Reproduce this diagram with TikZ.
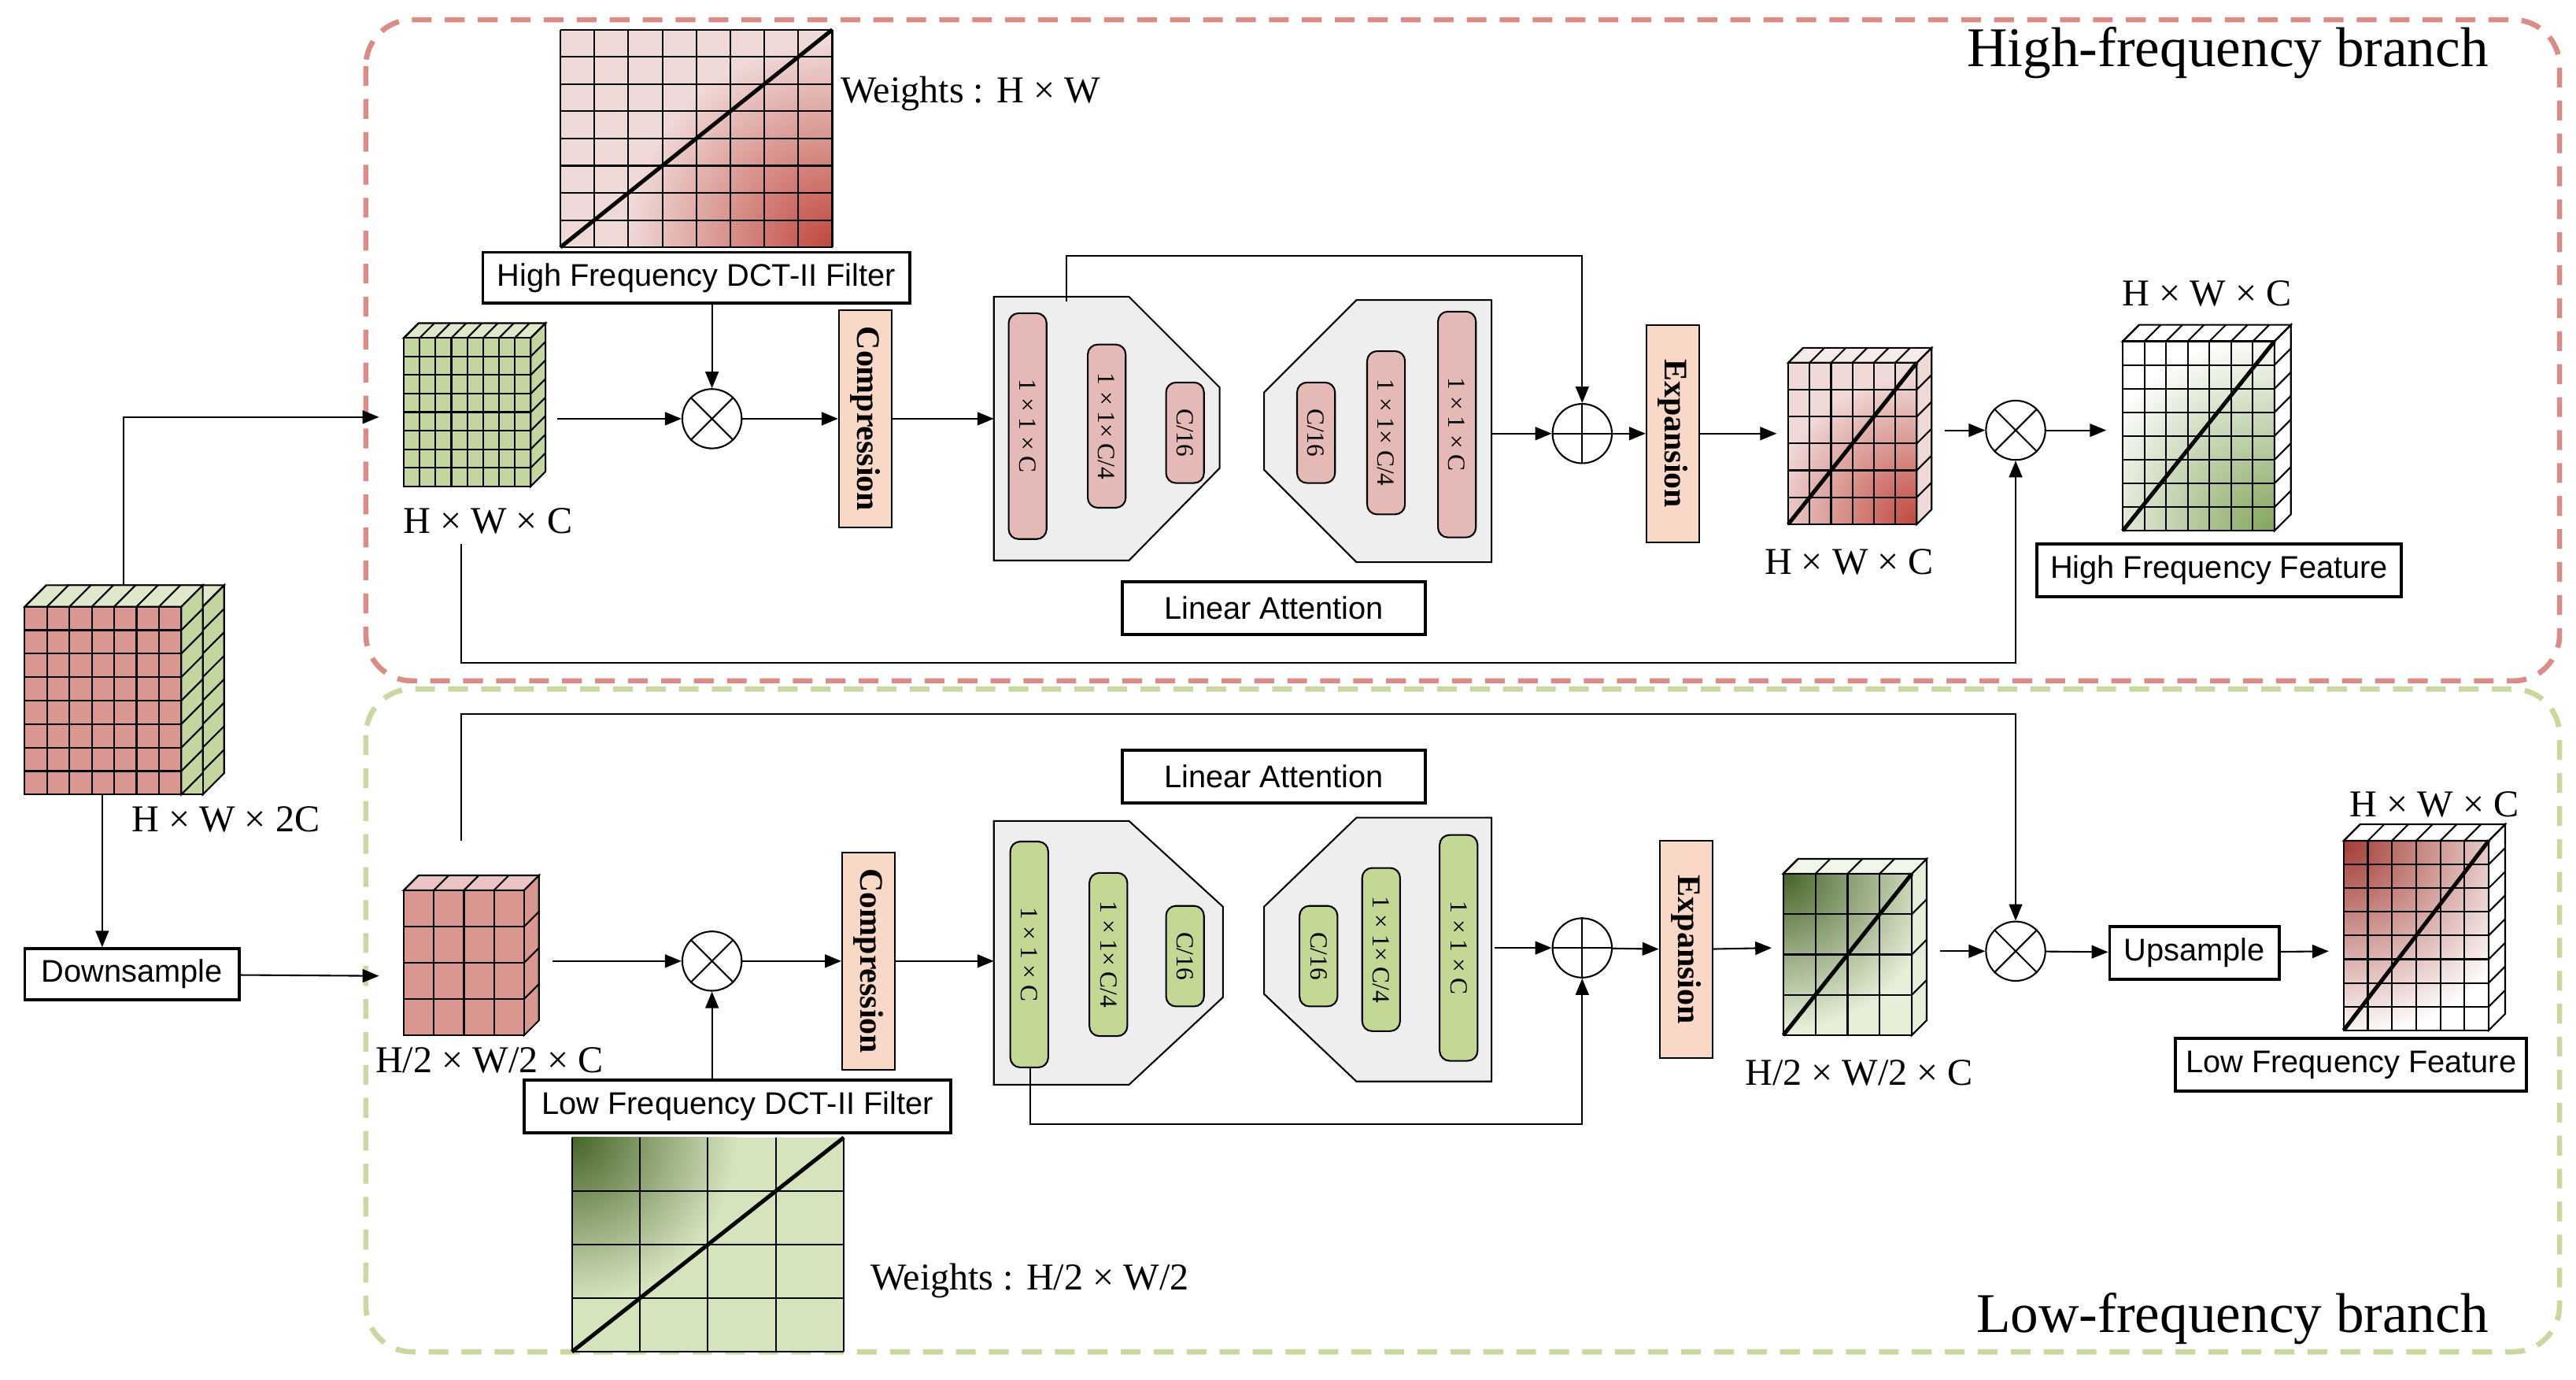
\documentclass[tikz,border=0pt]{standalone}
\usepackage{fontspec}
\setmainfont{Liberation Serif}
\newfontfamily\sansf{Liberation Sans}
\usetikzlibrary{arrows.meta,shapes.misc}
\definecolor{hred}{RGB}{218,140,135}
\definecolor{lgrn}{RGB}{200,216,160}
\definecolor{gcube}{RGB}{196,214,160}
\definecolor{rcube}{RGB}{218,150,145}
\definecolor{pbar}{RGB}{228,185,182}
\definecolor{gbar}{RGB}{196,216,150}
\definecolor{peach}{RGB}{250,216,200}
\definecolor{pgrey}{RGB}{238,238,238}
\definecolor{hpink}{RGB}{240,218,216}
\definecolor{dred}{RGB}{192,70,60}
\definecolor{dgrn}{RGB}{70,100,40}
\definecolor{mgrn}{RGB}{130,165,90}
\definecolor{lpale}{RGB}{214,228,190}
\tikzset{every picture/.style={line width=0.5pt}}
\tikzset{
  arr/.style={-{Triangle[length=5pt,width=4pt]}},
  lbl/.style={font=\sansf\fontsize{9.5}{11}\selectfont,draw,line width=0.9pt,inner sep=0pt},
  dim/.style={font=\fontsize{11.5}{13}\selectfont},
  bar/.style={draw,rounded corners=3pt,minimum height=11.5pt,rotate=-90,inner sep=0pt,font=\fontsize{7.5}{8}\selectfont},
  stage/.style={draw,fill=peach,minimum width=16pt,minimum height=66pt,inner sep=0pt},
  op/.style={draw,circle,minimum size=18pt,inner sep=0pt},
}
% cube: x, y (front top-left), w, h, depth, cols, rows, front fill, side fill
\newcommand\gcube[9]{%
  \filldraw[fill=#9] (#1+#3,#2) -- ++(#5,-#5) -- ++(0,#4) -- ++(-#5,#5) -- cycle;
  \filldraw[fill=#9!55!white] (#1,#2) -- ++(#5,-#5) -- ++(#3,0) -- ++(-#5,#5) -- cycle;
  \filldraw[fill=#8] (#1,#2) rectangle ++(#3,#4);
  \foreach \i in {1,...,#6}{
    \draw (#1+\i*#3/#6,#2) -- ++(0,#4);
    \draw (#1+\i*#3/#6-#3/#6,#2) -- ++(#5,-#5);}
  \foreach \j in {1,...,#7}{
    \draw (#1,#2+\j*#4/#7) -- ++(#3,0);
    \draw (#1+#3,#2+\j*#4/#7-#4/#7) -- ++(#5,-#5);}
}
\begin{document}
\begin{tikzpicture}[x=0.5pt,y=-0.5pt]
\useasboundingbox (0,0) rectangle (1563,837);

% branch frames
\draw[hred,line width=1.6pt,dash pattern=on 6pt off 4pt,rounded corners=14pt] (222,12) rectangle (1553,413);
\draw[lgrn,line width=1.6pt,dash pattern=on 6pt off 4pt,rounded corners=14pt] (222,418) rectangle (1553,820);
\node[anchor=east,font=\fontsize{17}{19}\selectfont] (th) at (1517,32) {High-frequency branch};
\node[anchor=east,font=\fontsize{17}{19}\selectfont] (tl) at (1517,800) {Low-frequency branch};

% input feature
\gcube{28}{368}{95}{114}{13}{7}{8}{gcube}{gcube}
\gcube{15}{368}{95}{114}{13}{7}{8}{rcube}{gcube}
\node[dim] (din) at (137,497) {H × W × 2C};
\coordinate (inT) at (75,355);
\coordinate (inB) at (62,482);
\coordinate (hin) at (230,253);
\coordinate (lin) at (230,592);
\node[lbl,minimum width=65pt,minimum height=15.5pt] (down) at (80,591) {Downsample};
\draw[arr] (inT) |- (hin);
\draw[arr] (inB) -- (inB |- down.north);
\draw[arr] (down) -- (lin);

%%% high-frequency branch
\gcube{245}{205}{77}{90}{9}{8}{8}{gcube}{gcube}
\coordinate (hc) at (338,254);
\node[dim] (dh1) at (296,316) {H × W × C};
% weights H x W
\fill[hpink] (340,18) rectangle (505,150);
\begin{scope}
\clip (340,18) rectangle (505,150);
\shade[inner color=dred,outer color=hpink] (505,150) circle (125);
\end{scope}
\foreach \i in {0,...,8} \draw (340+\i*165/8,18) -- ++(0,132);
\foreach \j in {0,...,8} \draw (340,18+\j*132/8) -- ++(165,0);
\draw[line width=1.2pt] (340,150) -- (505,18);
\node[dim,anchor=west] (wh) at (503,57) {Weights : H × W};
\node[lbl,minimum width=129.5pt,minimum height=15.5pt] (fh) at (422.5,168.5) {High Frequency DCT-II Filter};
\node[op] (mh) at (432,254) {};
\draw (mh.north east) -- (mh.south west) (mh.north west) -- (mh.south east);
\draw[arr] (fh.south -| mh) -- (mh);
\draw[arr] (hc) -- (mh);
\node[stage] (ch) at (525,254) {};
\node[rotate=-90,font=\bfseries\fontsize{10}{11}\selectfont] at (ch) {Compression};
\draw[arr] (mh) -- (ch);
% linear attention
\filldraw[fill=pgrey] (603,180) -- (685,180) -- (740,235) -- (740,284) -- (685,340) -- (603,340) -- cycle;
\filldraw[fill=pgrey] (767,238) -- (823,182) -- (905,182) -- (905,341) -- (823,341) -- (767,285) -- cycle;
\node[bar,fill=pbar,minimum width=68.5pt] (h1) at (623.5,258.5) {1 × 1 × C};
\node[bar,fill=pbar,minimum width=49.5pt] (h2) at (671.5,258.5) {1 × 1× C/4};
\node[bar,fill=pbar,minimum width=30.5pt] (h3) at (719,262.5) {C/16};
\node[bar,fill=pbar,minimum width=30.5pt] (h4) at (798.5,262.5) {C/16};
\node[bar,fill=pbar,minimum width=49.5pt] (h5) at (841,262.5) {1 × 1× C/4};
\node[bar,fill=pbar,minimum width=68.5pt] (h6) at (884,257.5) {1 × 1 × C};
\coordinate (ehin) at (603,254);
\coordinate (ehout) at (905,263);
\coordinate (skh) at (647,183);
\draw[arr] (ch) -- (ehin);
\node[lbl,minimum width=92pt,minimum height=16pt] (lah) at (773,369) {Linear Attention};
\node[op] (ah) at (960,263) {};
\draw (ah.north) -- (ah.south) (ah.west) -- (ah.east);
\draw[arr] (ehout) -- (ah);
\draw[arr] (skh) |- (900,155) -| (ah);
\node[stage] (eh) at (1015,263) {};
\node[rotate=-90,font=\bfseries\fontsize{10}{11}\selectfont] at (eh) {Expansion};
\draw[arr] (ah) -- (eh);
% filtered high feature
\fill[hpink] (1085,220) rectangle (1163,318);
\begin{scope}
\clip (1085,220) rectangle (1163,318);
\shade[inner color=dred,outer color=hpink] (1163,318) circle (90);
\end{scope}
\gcube{1085}{220}{78}{98}{9}{6}{6}{none}{hpink}
\draw[line width=1.2pt] (1085,318) -- (1163,220);
\coordinate (fhin) at (1078,263);
\coordinate (fhout) at (1180,261);
\node[dim] (dh2) at (1122,341) {H × W × C};
\draw[arr] (eh) -- (fhin);
\node[op] (mh2) at (1223,261) {};
\draw (mh2.north east) -- (mh2.south west) (mh2.north west) -- (mh2.south east);
\draw[arr] (fhout) -- (mh2);
% high frequency feature
\fill[white] (1288,207) rectangle (1380,322);
\begin{scope}
\clip (1288,207) rectangle (1380,322);
\shade[inner color=mgrn,outer color=white] (1380,322) circle (120);
\end{scope}
\gcube{1288}{207}{92}{115}{10}{7}{8}{none}{white}
\draw[line width=1.2pt] (1288,322) -- (1380,207);
\coordinate (ohin) at (1278,261);
\draw[arr] (mh2) -- (ohin);
\node[dim] (dh3) at (1339,178) {H × W × C};
\node[lbl,minimum width=110.5pt,minimum height=16pt] (ofh) at (1346.5,346) {High Frequency Feature};
\coordinate (rh) at (280,330);
\draw[arr] (rh) |- (900,402) -| (mh2);

%%% low-frequency branch
\gcube{245}{540}{73}{88}{9}{4}{4}{rcube}{rcube}
\coordinate (lc) at (335,583);
\node[dim] (dl1) at (297,643) {H/2 × W/2 × C};
\coordinate (rl) at (280,510);
\node[op] (ml) at (432,583) {};
\draw (ml.north east) -- (ml.south west) (ml.north west) -- (ml.south east);
\draw[arr] (lc) -- (ml);
\node[lbl,minimum width=129.5pt,minimum height=16pt] (fl) at (447.5,671) {Low Frequency DCT-II Filter};
\draw[arr] (fl.north -| ml) -- (ml);
% weights H/2 x W/2
\fill[lpale] (347,690) rectangle (512,820);
\begin{scope}
\clip (347,690) rectangle (512,820);
\shade[inner color=dgrn,outer color=lpale] (347,690) circle (100);
\end{scope}
\foreach \i in {0,...,4} \draw (347+\i*165/4,690) -- ++(0,130);
\foreach \j in {1,...,4} \draw (347,690+\j*130/4) -- ++(165,0);
\draw[line width=1.2pt] (347,820) -- (512,690);
\node[dim,anchor=west] (wl) at (521,777) {Weights : H/2 × W/2};
\node[stage] (cl) at (527,583) {};
\node[rotate=-90,font=\bfseries\fontsize{10}{11}\selectfont] at (cl) {Compression};
\draw[arr] (ml) -- (cl);
\filldraw[fill=pgrey] (603,498) -- (685,498) -- (742,550) -- (742,605) -- (685,658) -- (603,658) -- cycle;
\filldraw[fill=pgrey] (767,550) -- (823,496) -- (905,496) -- (905,656) -- (823,656) -- (767,603) -- cycle;
\node[bar,fill=gbar,minimum width=68.5pt] (l1) at (624.5,579) {1 × 1 × C};
\node[bar,fill=gbar,minimum width=49.5pt] (l2) at (672.5,579) {1 × 1× C/4};
\node[bar,fill=gbar,minimum width=30.5pt] (l3) at (719,580) {C/16};
\node[bar,fill=gbar,minimum width=30.5pt] (l4) at (800,580) {C/16};
\node[bar,fill=gbar,minimum width=49.5pt] (l5) at (838,576) {1 × 1× C/4};
\node[bar,fill=gbar,minimum width=68.5pt] (l6) at (885,575) {1 × 1 × C};
\coordinate (elin) at (603,583);
\coordinate (elout) at (907,575);
\coordinate (skl) at (625,648);
\draw[arr] (cl) -- (elin);
\node[lbl,minimum width=92pt,minimum height=16pt] (lal) at (773,471) {Linear Attention};
\node[op] (al) at (960,575) {};
\draw (al.north) -- (al.south) (al.west) -- (al.east);
\draw[arr] (elout) -- (al);
\draw[arr] (skl) |- (900,682) -| (al);
\node[stage] (el) at (1023,576) {};
\node[rotate=-90,font=\bfseries\fontsize{10}{11}\selectfont] at (el) {Expansion};
\draw[arr] (al) -- (el);
% filtered low feature
\fill[lpale!60!white] (1082,530) rectangle (1160,628);
\begin{scope}
\clip (1082,530) rectangle (1160,628);
\shade[inner color=dgrn,outer color=lpale!60!white] (1082,530) circle (95);
\end{scope}
\gcube{1082}{530}{78}{98}{9}{4}{4}{none}{lpale!60!white}
\draw[line width=1.2pt] (1082,628) -- (1160,530);
\coordinate (flin) at (1075,575);
\coordinate (flout) at (1177,577);
\node[dim] (dl2) at (1128,651) {H/2 × W/2 × C};
\draw[arr] (el) -- (flin);
\node[op] (ml2) at (1223,577) {};
\draw (ml2.north east) -- (ml2.south west) (ml2.north west) -- (ml2.south east);
\draw[arr] (flout) -- (ml2);
\draw[arr] (rl) |- (900,433) -| (ml2);
\node[lbl,minimum width=51.5pt,minimum height=16pt] (up) at (1331.5,578) {Upsample};
\draw[arr] (ml2) -- (up);
% low frequency feature
\fill[white] (1422,510) rectangle (1510,625);
\begin{scope}
\clip (1422,510) rectangle (1510,625);
\shade[inner color=dred!85!black,outer color=white] (1422,510) circle (120);
\end{scope}
\gcube{1422}{510}{88}{115}{10}{6}{8}{none}{white}
\draw[line width=1.2pt] (1422,625) -- (1510,510);
\coordinate (olin) at (1413,577);
\draw[arr] (up) -- (olin);
\node[dim] (dl3) at (1477,488) {H × W × C};
\node[lbl,minimum width=106.5pt,minimum height=16pt] (ofl) at (1426.5,646) {Low Frequency Feature};
\end{tikzpicture}
\end{document}
